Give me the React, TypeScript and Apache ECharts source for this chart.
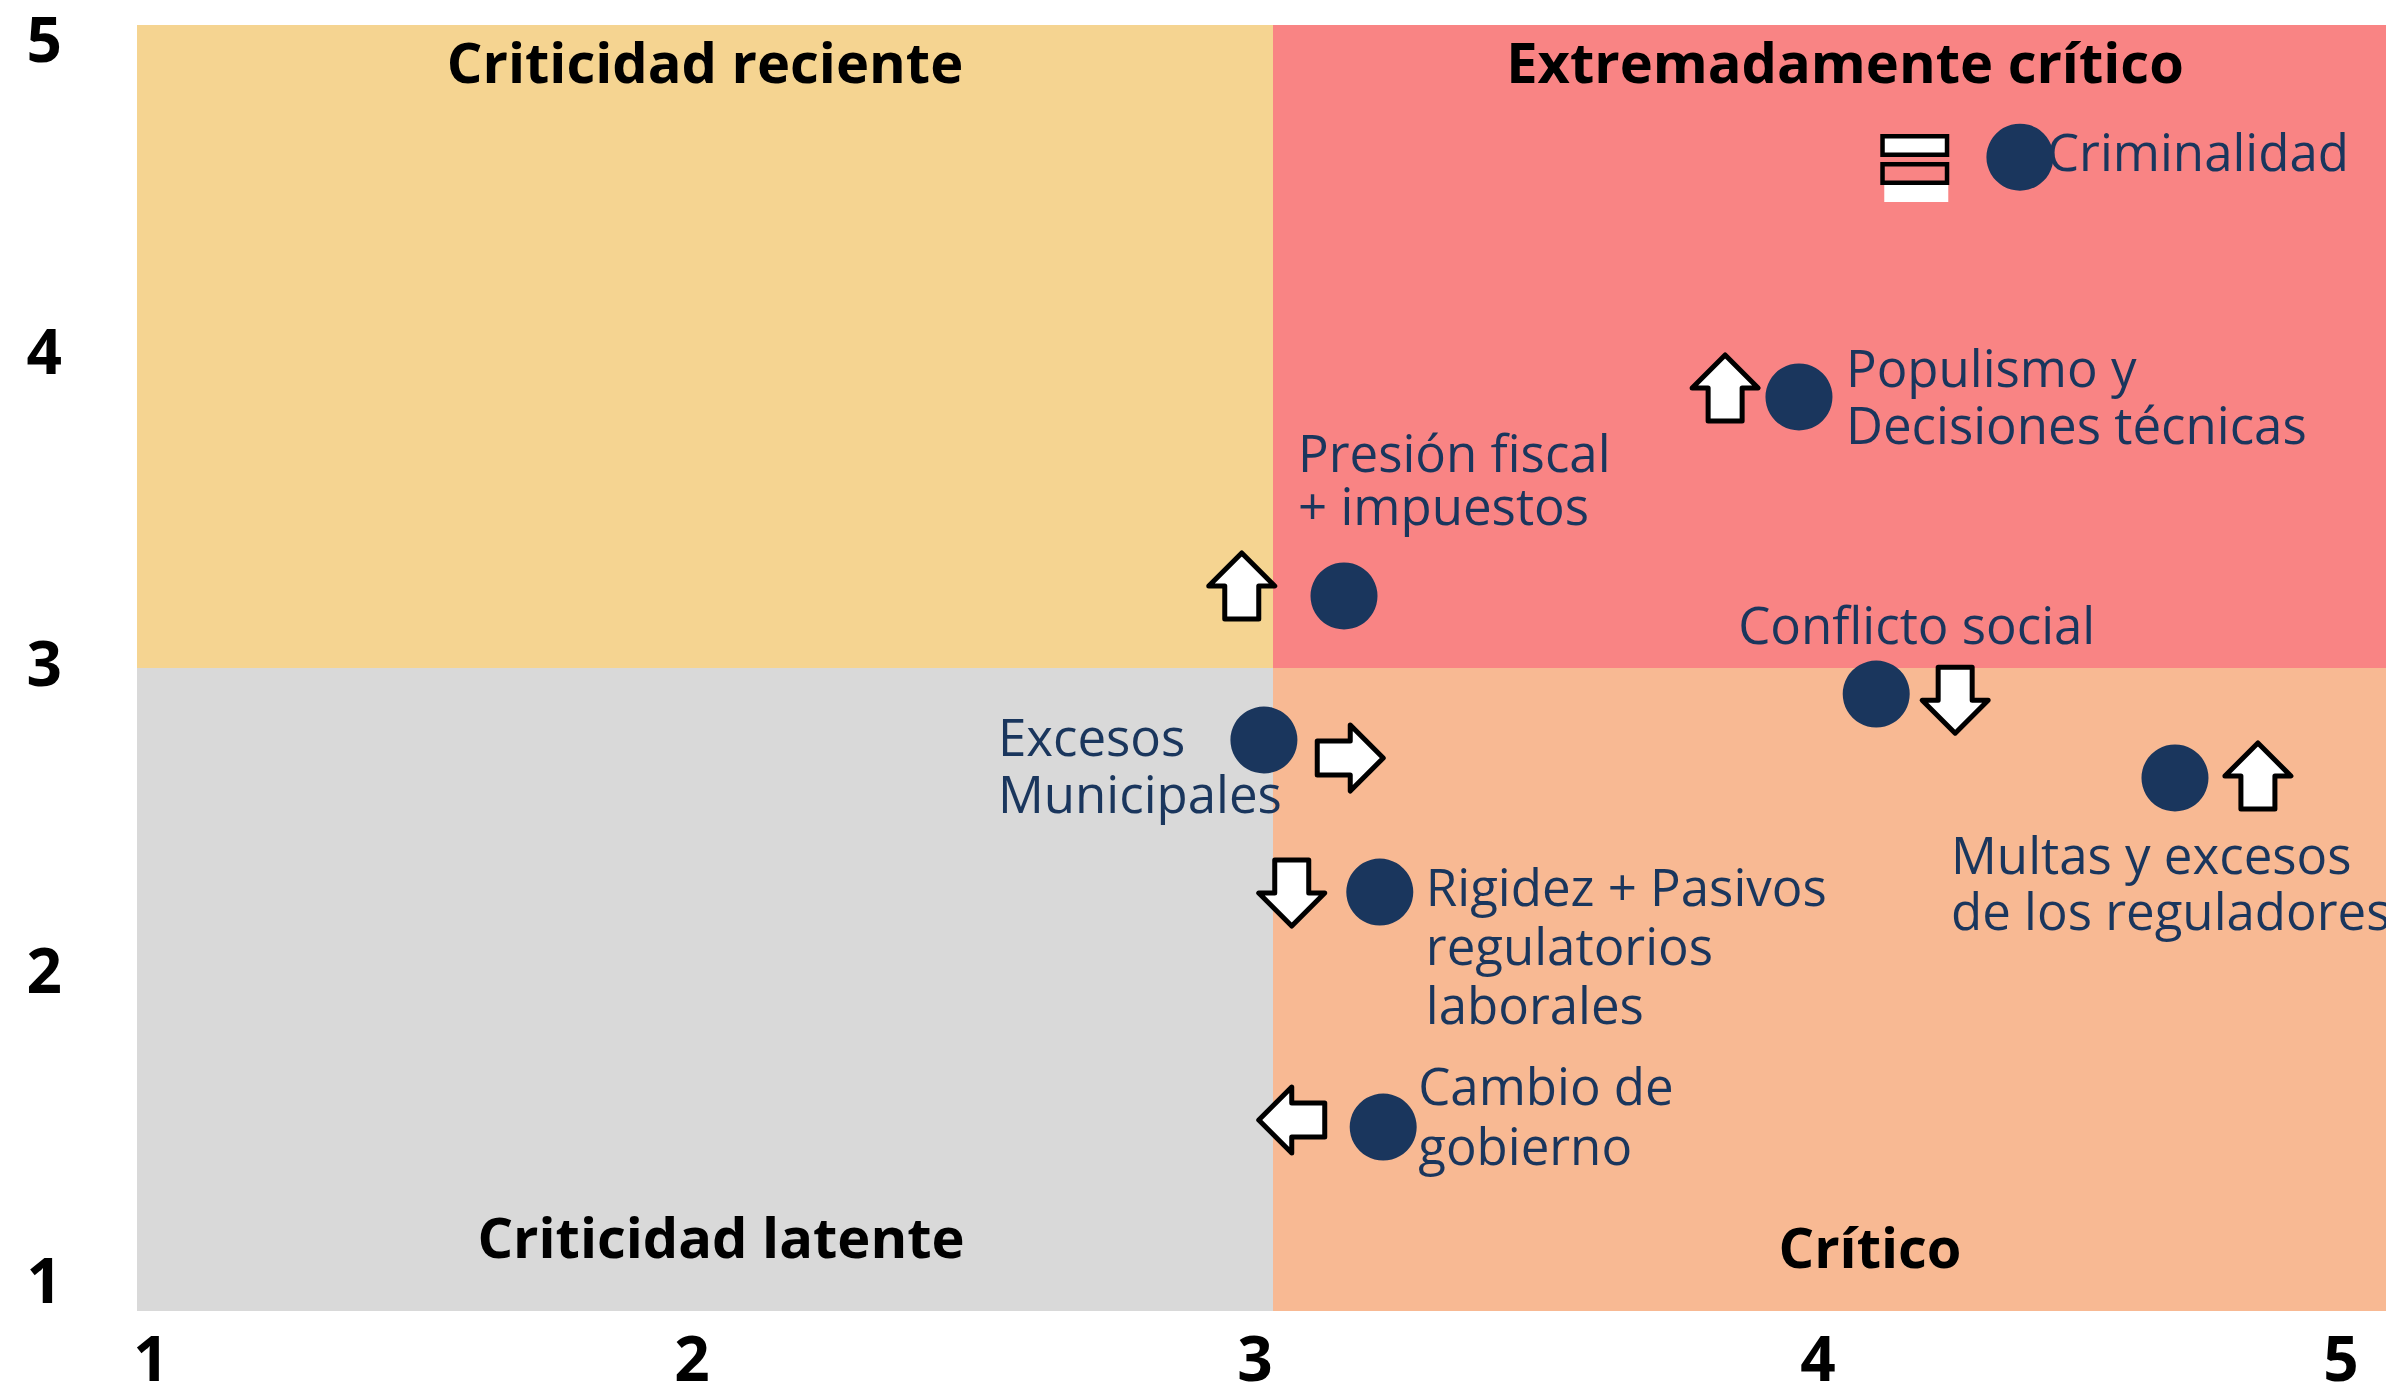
import React, { useEffect, useRef } from "react";
import * as echarts from "echarts";

// ---- data ----
const riskNames = [
  "Criminalidad",
  "Populismo y\nDecisiones técnicas",
  "Presión fiscal\n+ impuestos",
  "Conflicto social",
  "Multas y excesos\nde los reguladores",
  "Excesos\nMunicipales",
  "Rigidez + Pasivos\nregulatorios\nlaborales",
  "Cambio de\ngobierno",
];
const riskX = [4.315, 3.926, 3.125, 4.062, 4.588, 2.984, 3.188, 3.194];
const riskY = [4.589, 3.843, 3.224, 2.919, 2.658, 2.776, 2.303, 1.572];

// trend markers (arrows) next to each risk
const trendX = [4.129, 3.796, 2.945, 4.201, 4.734, 3.136, 3.033, 3.033];
const trendY = [4.558, 3.871, 3.255, 2.9, 2.664, 2.72, 2.3, 1.594];
const trendDir = ["same", "up", "up", "down", "up", "right", "down", "left"];

const axisMin = 1;
const axisMax = 5;
const axisSplit = 3;
const tickValues = [1, 2, 3, 4, 5];

const quadrantNames = [
  "Criticidad reciente",
  "Extremadamente crítico",
  "Criticidad latente",
  "Crítico",
];

// ---- styles ----
const quadrantColors = ["#F5D491", "#F98484", "#D9D9D9", "#F8B993"];
const navy = "#1A365D";
// label placement per risk: [dx, dy, lineHeight]
const labelStyles: [number, number, number][] = [
  [27, -6, 57],
  [47, -1, 57],
  [-46, -117, 53],
  [-138, -70, 57],
  [-224, 104, 56],
  [-266, 24, 57],
  [46, 53, 59],
  [35, -12, 60],
];
// tick label nudges (padding) as in the reference slide
const xLabelPadding: number[][] = [
  [0, 0, 0, 28],
  [0, 26, 0, 0],
  [0, 36, 0, 0],
  [0, 46, 0, 0],
  [0, 136, 0, 0],
];
const yLabelPadding: number[][] = [
  [0, 0, 64, 0],
  [0, 0, 41, 0],
  [0, 0, 12, 0],
  [7, 0, 0, 0],
  [26, 0, 0, 0],
];

const textFont = "'Open Sans', 'Noto Sans', sans-serif";

export default function App() {
  const ref = useRef<HTMLDivElement>(null);
  useEffect(() => {
    if (!ref.current) return;
    const chart = echarts.init(ref.current, null, { renderer: "svg" });

    const titleLabel = (pos: string, distance: number, dx: number) => ({
      show: true,
      position: pos,
      distance,
      offset: [dx, 0],
      fontFamily: textFont,
      fontWeight: "bold",
      fontSize: 56,
      lineHeight: 56,
      color: "#000",
    });

    const quadrants = [
      [
        { name: quadrantNames[0], xAxis: axisMin, yAxis: axisSplit, itemStyle: { color: quadrantColors[0] }, label: titleLabel("insideTop", 8, 0) },
        { xAxis: axisSplit, yAxis: axisMax },
      ],
      [
        { name: quadrantNames[1], xAxis: axisSplit, yAxis: axisSplit, itemStyle: { color: quadrantColors[1] }, label: titleLabel("insideTop", 8, 4) },
        { xAxis: axisMax, yAxis: axisMax },
      ],
      [
        { name: quadrantNames[2], xAxis: axisMin, yAxis: axisMin, itemStyle: { color: quadrantColors[2] }, label: titleLabel("insideBottom", 47, 16) },
        { xAxis: axisSplit, yAxis: axisSplit },
      ],
      [
        { name: quadrantNames[3], xAxis: axisSplit, yAxis: axisMin, itemStyle: { color: quadrantColors[3] }, label: titleLabel("insideBottom", 37, 29) },
        { xAxis: axisMax, yAxis: axisSplit },
      ],
    ];

    const arrowBase = [
      [0, -33],
      [33, 0],
      [17, 0],
      [17, 33],
      [-17, 33],
      [-17, 0],
      [-33, 0],
    ];
    const rotate = (dir: string, p: number[]) => {
      const [x, y] = p;
      if (dir === "right") return [-y, x];
      if (dir === "down") return [-x, -y];
      if (dir === "left") return [y, -x];
      return [x, y];
    };

    const tickFont = {
      fontFamily: textFont,
      fontWeight: "bold",
      fontSize: 62,
      color: "#000",
    };
    const xRich: any = {};
    const yRich: any = {};
    tickValues.forEach((v, i) => {
      xRich["t" + v] = { ...tickFont, lineHeight: 48, padding: xLabelPadding[i] };
      yRich["t" + v] = { ...tickFont, lineHeight: 48, padding: yLabelPadding[i] };
    });

    const option: any = {
      animation: false,
      backgroundColor: "#fff",
      grid: {
        left: 137,
        right: -23,
        top: 25,
        bottom: 72,
        containLabel: false,
        outerBoundsMode: "none",
      },
      xAxis: {
        type: "value",
        min: axisMin,
        max: axisMax,
        interval: 1,
        axisLine: { show: false },
        axisTick: { show: false },
        splitLine: { show: false },
        axisLabel: {
          ...tickFont,
          margin: 22,
          formatter: (v: number) => `{t${v}|${v}}`,
          rich: xRich,
        },
      },
      yAxis: {
        type: "value",
        min: axisMin,
        max: axisMax,
        interval: 1,
        axisLine: { show: false },
        axisTick: { show: false },
        splitLine: { show: false },
        axisLabel: {
          ...tickFont,
          margin: 75,
          formatter: (v: number) => `{t${v}|${v}}`,
          rich: yRich,
        },
      },
      series: [
        {
          type: "scatter",
          z: 1,
          data: [],
          silent: true,
          markArea: { silent: true, data: quadrants },
        },
        {
          type: "custom",
          z: 3,
          silent: true,
          data: trendX.map((x, i) => [x, trendY[i]]),
          encode: { x: 0, y: 1 },
          renderItem: (params: any, api: any) => {
            const p = api.coord([api.value(0), api.value(1)]);
            const dir = trendDir[params.dataIndex];
            if (dir === "same") {
              return {
                type: "group",
                x: p[0],
                y: p[1],
                children: [
                  { type: "rect", shape: { x: -30, y: 18, width: 64, height: 17 }, style: { fill: "#fff" } },
                  { type: "rect", shape: { x: -31.75, y: -2.75, width: 64.5, height: 18.5 }, style: { fill: "none", stroke: "#000", lineWidth: 4.5 } },
                  { type: "rect", shape: { x: -31.75, y: -30.75, width: 64.5, height: 18.5 }, style: { fill: "#fff", stroke: "#000", lineWidth: 4.5 } },
                ],
              };
            }
            return {
              type: "polygon",
              x: p[0],
              y: p[1],
              shape: { points: arrowBase.map((pt) => rotate(dir, pt)) },
              style: { fill: "#fff", stroke: "#000", lineWidth: 5, lineJoin: "round" },
            };
          },
        },
        {
          type: "scatter",
          z: 4,
          symbol: "circle",
          symbolSize: 67,
          itemStyle: { color: navy, opacity: 1 },
          data: riskX.map((x, i) => ({
            name: riskNames[i],
            value: [x, riskY[i]],
            label: {
              show: true,
              position: "inside",
              align: "left",
              verticalAlign: "middle",
              offset: [labelStyles[i][0], labelStyles[i][1]],
              lineHeight: labelStyles[i][2],
              formatter: riskNames[i],
              color: navy,
              opacity: 1,
              fontFamily: textFont,
              fontSize: 51,
            },
          })),
        },
      ],
    };
    chart.setOption(option);
    return () => chart.dispose();
  }, []);

  return (
    <div
      ref={ref}
      style={{ position: "absolute", left: 0, top: 0, width: 2386, height: 1383 }}
    />
  );
}
